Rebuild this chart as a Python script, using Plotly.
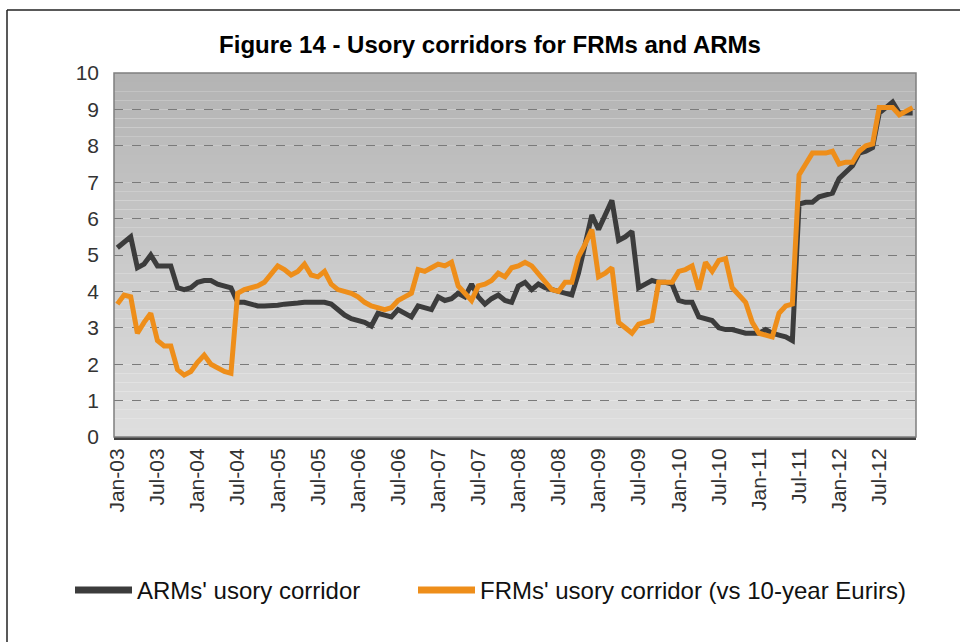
import plotly.graph_objects as go

month_names = ["Jan", "Feb", "Mar", "Apr", "May", "Jun",
               "Jul", "Aug", "Sep", "Oct", "Nov", "Dec"]
years = ["03", "04", "05", "06", "07", "08", "09", "10", "11", "12"]
months = [f"{m}-{y}" for y in years for m in month_names]

tick_labels = ["Jan-03", "Jul-03", "Jan-04", "Jul-04", "Jan-05", "Jul-05",
               "Jan-06", "Jul-06", "Jan-07", "Jul-07", "Jan-08", "Jul-08",
               "Jan-09", "Jul-09", "Jan-10", "Jul-10", "Jan-11", "Jul-11",
               "Jan-12", "Jul-12"]

arms = [5.2, 5.35, 5.5, 4.65, 4.75, 5.0, 4.7, 4.7, 4.7, 4.1, 4.05, 4.1,
        4.25, 4.3, 4.3, 4.2, 4.15, 4.1, 3.7, 3.7, 3.65, 3.6, 3.6, 3.6,
        3.62, 3.65, 3.65, 3.68, 3.7, 3.7, 3.72, 3.7, 3.65, 3.5, 3.35, 3.25,
        3.2, 3.15, 3.05, 3.4, 3.35, 3.3, 3.5, 3.4, 3.3, 3.6, 3.55, 3.5,
        3.85, 3.75, 3.8, 3.95, 3.85, 4.2, 3.85, 3.65, 3.8, 3.9, 3.75, 3.7,
        4.15, 4.25, 4.05, 4.2, 4.1, 4.05, 4.0, 3.95, 3.9, 4.5, 5.3, 6.1,
        5.7, 6.1, 6.5, 5.4, 5.5, 5.65, 4.1, 4.2, 4.3, 4.25, 4.25, 4.2,
        3.75, 3.7, 3.7, 3.3, 3.25, 3.2, 3.0, 2.95, 2.95, 2.9, 2.85, 2.85,
        2.85, 2.95, 2.85, 2.8, 2.75, 2.65, 6.4, 6.45, 6.45, 6.6, 6.65, 6.7,
        7.1, 7.3, 7.45, 7.8, 7.85, 7.95, 8.9, 9.05, 9.2, 8.9, 8.9, 8.9]

frms = [3.65, 3.9, 3.85, 2.85, 3.15, 3.4, 2.65, 2.5, 2.5, 1.85, 1.7, 1.8,
        2.05, 2.25, 2.0, 1.9, 1.8, 1.75, 3.95, 4.05, 4.1, 4.15, 4.25, 4.5,
        4.7, 4.6, 4.45, 4.55, 4.75, 4.45, 4.4, 4.55, 4.2, 4.05, 4.0, 3.95,
        3.85, 3.7, 3.6, 3.55, 3.5, 3.55, 3.75, 3.85, 3.95, 4.6, 4.55, 4.65,
        4.75, 4.7, 4.8, 4.15, 3.95, 3.75, 4.15, 4.2, 4.3, 4.5, 4.4, 4.65,
        4.7, 4.8, 4.7, 4.5, 4.3, 4.05, 4.0, 4.25, 4.25, 4.95, 5.3, 5.7,
        4.4, 4.5, 4.65, 3.15, 3.0, 2.85, 3.1, 3.15, 3.2, 4.25, 4.25, 4.25,
        4.55, 4.6, 4.7, 4.05, 4.8, 4.55, 4.85, 4.9, 4.1, 3.9, 3.7, 3.15,
        2.85, 2.8, 2.75, 3.4, 3.6, 3.65, 7.2, 7.5, 7.8, 7.8, 7.8, 7.85,
        7.5, 7.55, 7.55, 7.85, 8.0, 8.05, 9.05, 9.05, 9.05, 8.85, 8.95, 9.05]

series_names = ["ARMs' usory corridor",
                "FRMs' usory corridor (vs 10-year Eurirs)"]

ARM_COLOR = "#3c3c3c"
FRM_COLOR = "#EE8E1A"
FONT = "Liberation Sans, Arial, sans-serif"

# plot area in pixels
L, R, T, B = 114, 916, 73, 437
W, H = R - L, B - T


def px_x(p):
    return (p - L) / W


def px_y(p):
    return (B - p) / H


fig = go.Figure()
fig.add_trace(go.Scatter(x=months, y=arms, mode="lines", name=series_names[0],
                         line=dict(color=ARM_COLOR, width=5)))
fig.add_trace(go.Scatter(x=months, y=frms, mode="lines", name=series_names[1],
                         line=dict(color=FRM_COLOR, width=5)))

# gradient background of plot area
shapes = []
n = 40
top = (180, 180, 180)
bot = (222, 222, 222)
for k in range(n):
    t = k / (n - 1)
    c = tuple(round(top[j] + (bot[j] - top[j]) * t) for j in range(3))
    shapes.append(dict(type="rect", xref="x domain", yref="y domain",
                       x0=0, x1=1, y0=1 - (k + 1) / n, y1=1 - k / n,
                       fillcolor=f"rgb{c}", line=dict(width=0), layer="below"))
# plot border
shapes.append(dict(type="rect", xref="x domain", yref="y domain",
                   x0=0, x1=1, y0=0, y1=1,
                   line=dict(color="#7f7f7f", width=1.5), layer="above"))
# outer chart border (left and top)
shapes.append(dict(type="line", xref="paper", yref="paper",
                   x0=px_x(7), x1=px_x(7), y0=px_y(10), y1=px_y(660),
                   line=dict(color="#222222", width=1.5)))
shapes.append(dict(type="line", xref="paper", yref="paper",
                   x0=px_x(7), x1=px_x(980), y0=px_y(10), y1=px_y(10),
                   line=dict(color="#222222", width=1.5)))

# legend (drawn manually to match the reference layout)
legend_y = 590
legend_items = [(75, 132, 135, ARM_COLOR), (418, 475, 478, FRM_COLOR)]
annotations = []
for (sx0, sx1, tx, col), name in zip(legend_items, series_names):
    shapes.append(dict(type="line", xref="paper", yref="paper",
                       x0=px_x(sx0), x1=px_x(sx1),
                       y0=px_y(legend_y), y1=px_y(legend_y),
                       line=dict(color=col, width=7)))
    annotations.append(dict(text=name, xref="paper", yref="paper",
                            x=px_x(tx), y=px_y(legend_y),
                            xanchor="left", yanchor="middle", showarrow=False,
                            font=dict(size=24, color="#111111", family=FONT)))

fig.update_layout(
    width=960, height=642,
    margin=dict(l=L, r=960 - R, t=T, b=642 - B),
    paper_bgcolor="white",
    plot_bgcolor="rgba(0,0,0,0)",
    font=dict(family=FONT, color="#333333"),
    title=dict(text="<b>Figure 14 - Usory corridors for FRMs and ARMs</b>",
               x=490 / 960, xanchor="center", xref="container",
               y=1 - 45 / 642, yanchor="middle", yref="container",
               font=dict(size=24, color="#000000", family=FONT)),
    shapes=shapes,
    annotations=annotations,
    showlegend=False,
)

fig.update_xaxes(type="category", range=[-0.5, 119.5],
                 tickmode="array", tickvals=tick_labels, ticktext=tick_labels,
                 tickangle=-90, tickfont=dict(size=21, color="#333333"),
                 showgrid=False, showline=True, linecolor="#404040", linewidth=3,
                 ticks="", zeroline=False)
fig.update_yaxes(range=[0, 10], dtick=1, tickfont=dict(size=21, color="#333333"),
                 showgrid=True, gridcolor="#7a7a7a", gridwidth=1, griddash="dash",
                 ticks="", ticklabelstandoff=14, zeroline=False, showline=False)

fig.write_html("out.html")
